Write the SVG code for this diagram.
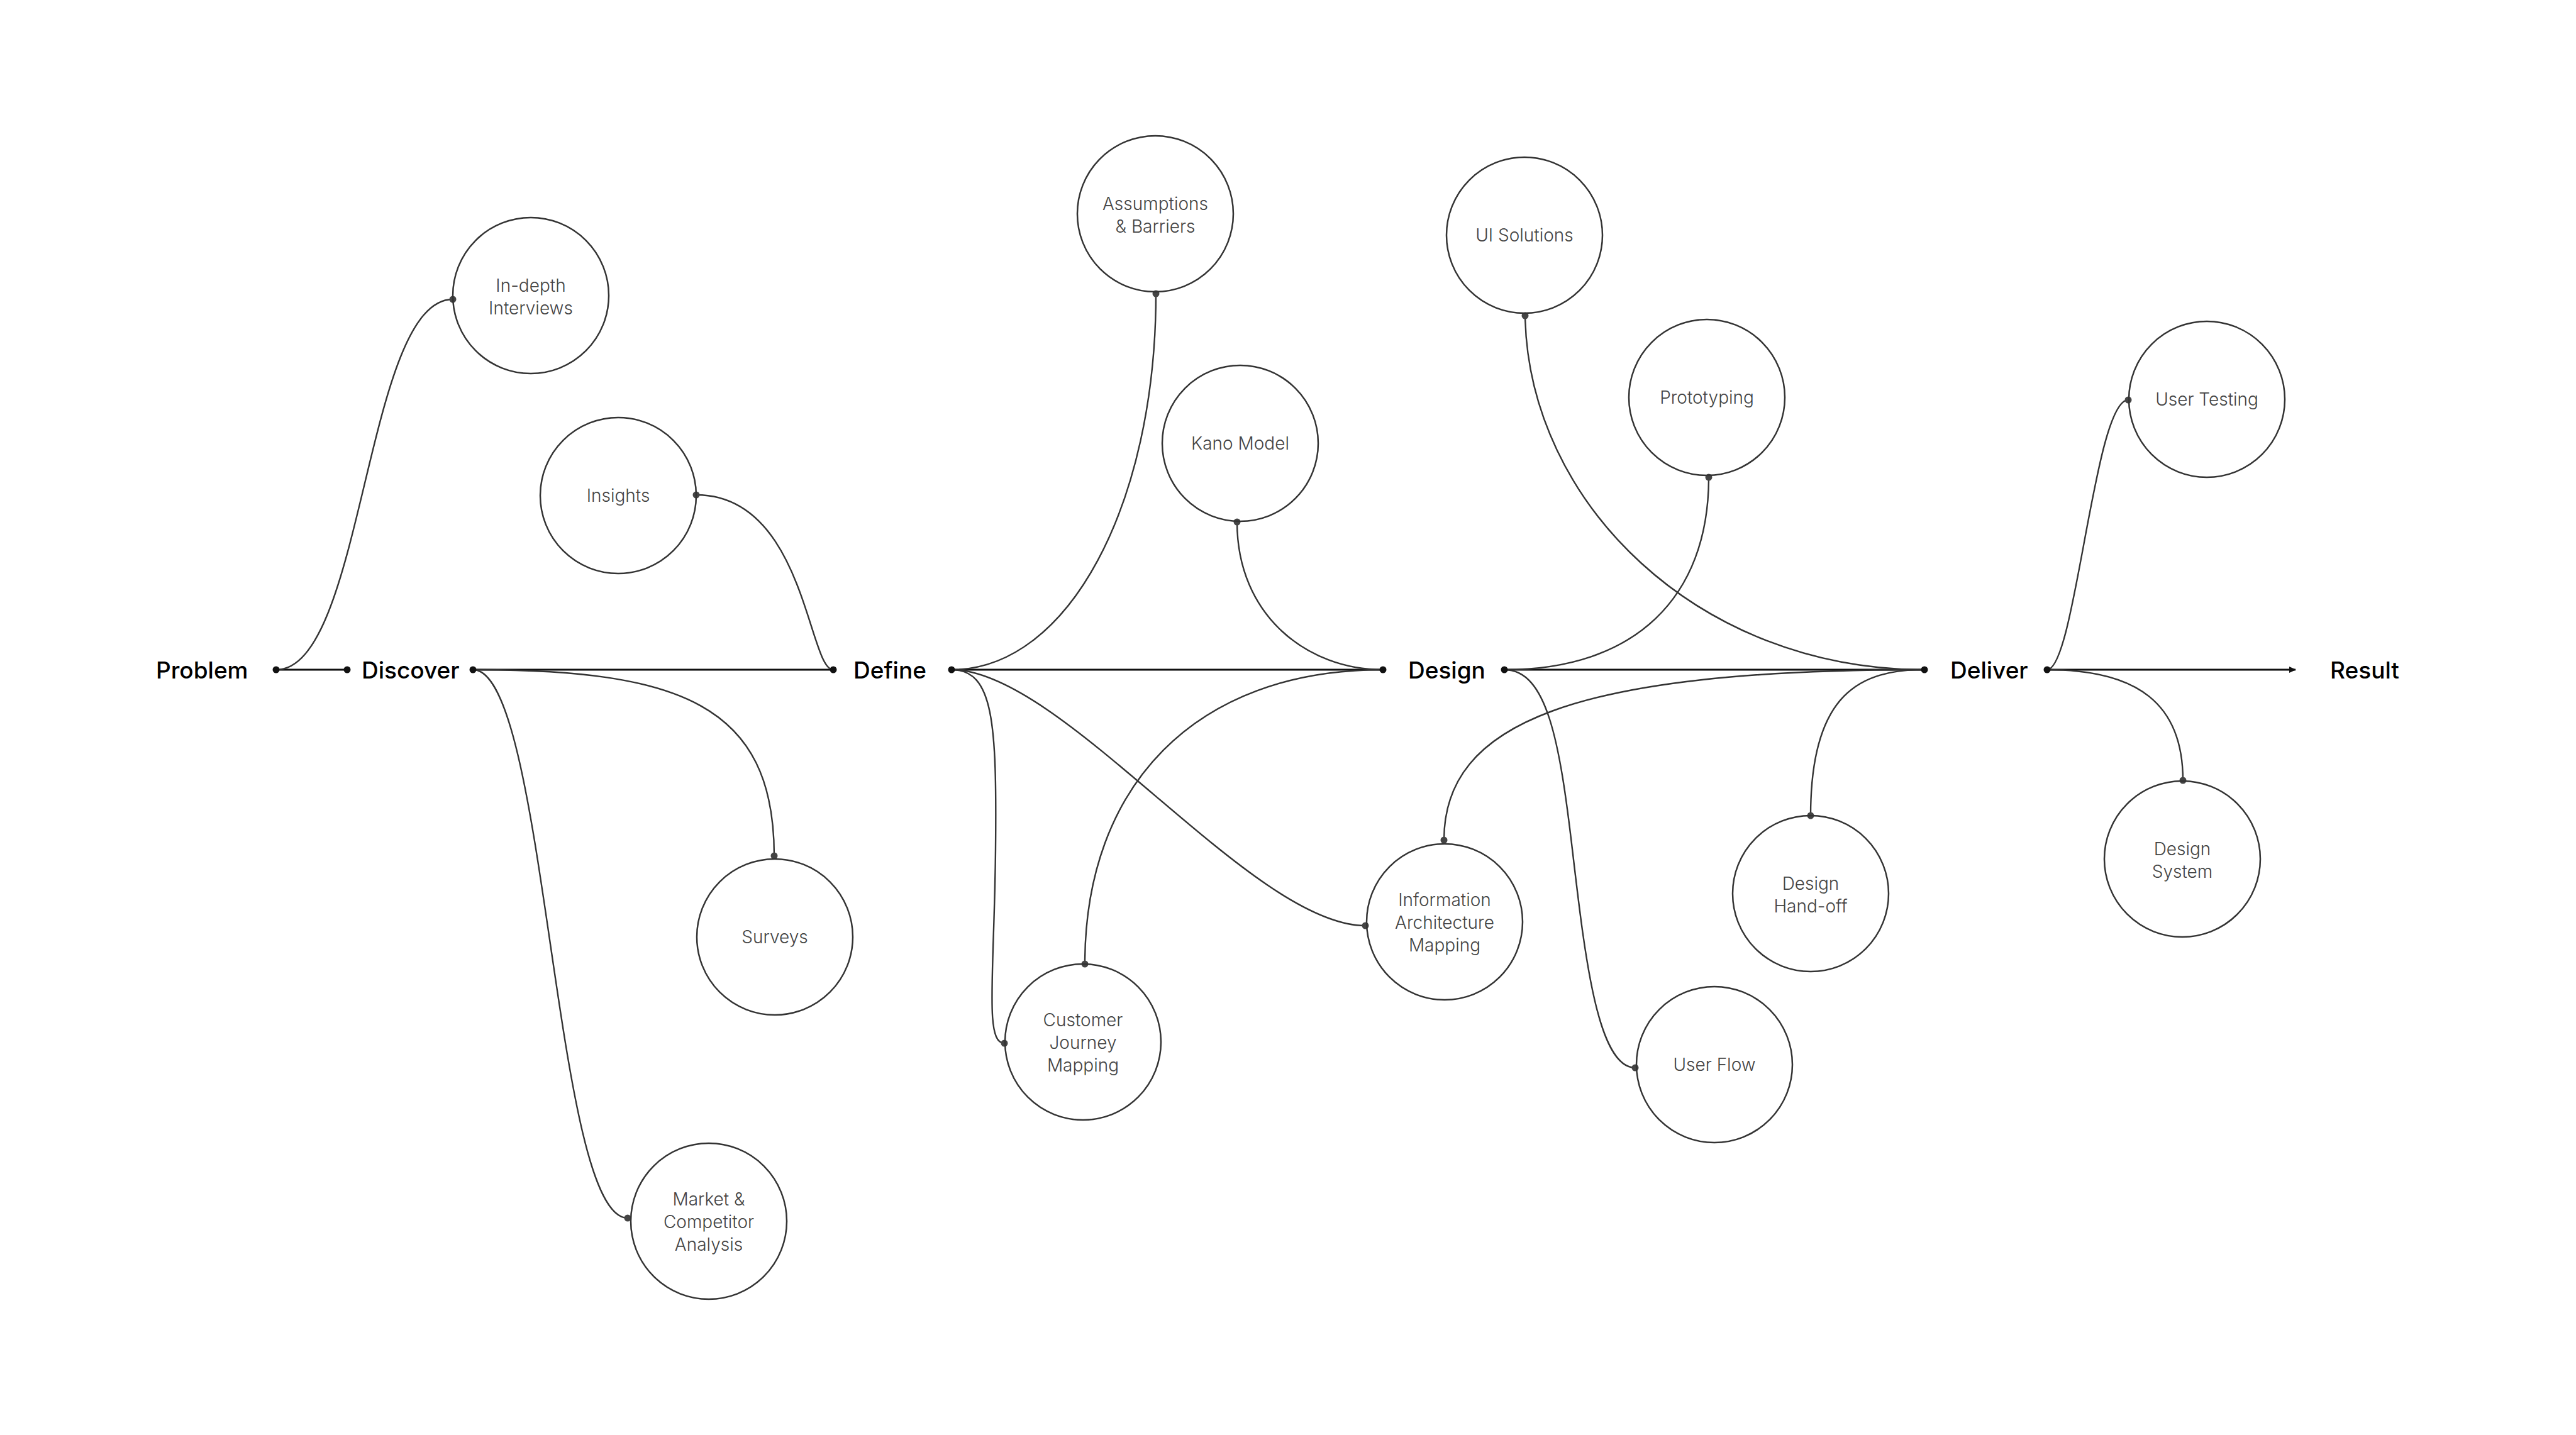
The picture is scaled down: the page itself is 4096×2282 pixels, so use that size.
<svg xmlns="http://www.w3.org/2000/svg" width="4096" height="2282" viewBox="0 0 4096 2282">
<style>
.bg{fill:#fff}
.node circle{fill:none;stroke:#333;stroke-width:2.5}
.node text{font-family:Inter,"Noto Sans","Liberation Sans",sans-serif;font-size:28px;font-weight:300;fill:#444;text-anchor:middle}
.stage text{font-family:Inter,"Noto Sans","Liberation Sans",sans-serif;font-size:37px;font-weight:500;fill:#000}
.conn path{fill:none;stroke:#333;stroke-width:2.4}
.main{stroke:#111 !important;stroke-width:2.8 !important}
.dot{fill:#111}
.ndot{fill:#444}
</style>
<defs>
<marker id="arrow" markerWidth="12" markerHeight="12" refX="10" refY="6" orient="auto" markerUnits="userSpaceOnUse">
<path d="M0,1 L11,6 L0,11 Z" fill="#111"/>
</marker>
</defs>
<rect class="bg" x="0" y="0" width="4096" height="2282"/>

<g id="connectors" class="conn">
<!-- main line -->
<path class="main" d="M439 1065 H552"/>
<path class="main" d="M752 1065 H1325"/>
<path class="main" d="M1513 1065 H2199"/>
<path class="main" d="M2392 1065 H3060"/>
<path class="main" d="M3255 1065 H3650" marker-end="url(#arrow)"/>
<!-- branches -->
<path d="M439 1065 C579 1065 580 476 720 476"/>
<path d="M1107 787 C1280 787 1285 1065 1325 1065"/>
<path d="M752 1065 C1080 1065 1231 1120 1231 1361"/>
<path d="M752 1065 C870 1065 880 1937 998 1937"/>
<path d="M1513 1065 C1700 1065 1838 800 1838 467"/>
<path d="M1967 830 C1967 980 2080 1065 2199 1065"/>
<path d="M1513 1065 C1580 1065 1585 1150 1583 1350 C1581 1550 1565 1659 1597 1659"/>
<path d="M1513 1065 C1690 1065 1990 1472 2171 1472"/>
<path d="M1725 1533 C1725 1250 1900 1065 2199 1065"/>
<path d="M2392 1065 C2600 1065 2717 950 2717 759"/>
<path d="M2425 502 C2430 800 2700 1065 3060 1065"/>
<path d="M2392 1065 C2460 1065 2480 1180 2500 1350 C2520 1520 2540 1698 2600 1698"/>
<path d="M2296 1336 C2296 1150 2500 1065 3060 1065"/>
<path d="M2879 1297 C2879 1100 2960 1065 3060 1065"/>
<path d="M3255 1065 C3300 1065 3330 636 3384 636"/>
<path d="M3255 1065 C3400 1065 3471 1120 3471 1241"/>
<!-- main dots -->
<circle class="dot" cx="439" cy="1065" r="5.5"/>
<circle class="dot" cx="552" cy="1065" r="5.5"/>
<circle class="dot" cx="752" cy="1065" r="5.5"/>
<circle class="dot" cx="1325" cy="1065" r="5.5"/>
<circle class="dot" cx="1513" cy="1065" r="5.5"/>
<circle class="dot" cx="2199" cy="1065" r="5.5"/>
<circle class="dot" cx="2392" cy="1065" r="5.5"/>
<circle class="dot" cx="3060" cy="1065" r="5.5"/>
<circle class="dot" cx="3255" cy="1065" r="5.5"/>
<!-- node dots -->
<circle class="ndot" cx="720" cy="476" r="5.5"/>
<circle class="ndot" cx="1107" cy="787" r="5.5"/>
<circle class="ndot" cx="1231" cy="1361" r="5.5"/>
<circle class="ndot" cx="998" cy="1937" r="5.5"/>
<circle class="ndot" cx="1838" cy="467" r="5.5"/>
<circle class="ndot" cx="1967" cy="830" r="5.5"/>
<circle class="ndot" cx="1597" cy="1659" r="5.5"/>
<circle class="ndot" cx="2171" cy="1472" r="5.5"/>
<circle class="ndot" cx="1725" cy="1533" r="5.5"/>
<circle class="ndot" cx="2717" cy="759" r="5.5"/>
<circle class="ndot" cx="2425" cy="502" r="5.5"/>
<circle class="ndot" cx="2600" cy="1698" r="5.5"/>
<circle class="ndot" cx="2296" cy="1336" r="5.5"/>
<circle class="ndot" cx="2879" cy="1297" r="5.5"/>
<circle class="ndot" cx="3384" cy="636" r="5.5"/>
<circle class="ndot" cx="3471" cy="1241" r="5.5"/>
</g>

<g id="stage-problem" class="stage"><text x="248" y="1079">Problem</text></g>
<g id="stage-discover" class="stage"><text x="575" y="1079">Discover</text></g>
<g id="stage-define" class="stage"><text x="1357" y="1079">Define</text></g>
<g id="stage-design" class="stage"><text x="2239" y="1079">Design</text></g>
<g id="stage-deliver" class="stage"><text x="3101" y="1079">Deliver</text></g>
<g id="stage-result" class="stage"><text x="3705" y="1079">Result</text></g>

<g id="node-indepth" class="node"><circle cx="844" cy="470" r="124"/><text x="844" y="464">In-depth</text><text x="844" y="500">Interviews</text></g>
<g id="node-insights" class="node"><circle cx="983" cy="788" r="124"/><text x="983" y="798">Insights</text></g>
<g id="node-surveys" class="node"><circle cx="1232" cy="1490" r="124"/><text x="1232" y="1500">Surveys</text></g>
<g id="node-market" class="node"><circle cx="1127" cy="1942" r="124"/><text x="1127" y="1917">Market &amp;</text><text x="1127" y="1953">Competitor</text><text x="1127" y="1989">Analysis</text></g>
<g id="node-assumptions" class="node"><circle cx="1837" cy="340" r="124"/><text x="1837" y="334">Assumptions</text><text x="1837" y="370">&amp; Barriers</text></g>
<g id="node-kano" class="node"><circle cx="1972" cy="705" r="124"/><text x="1972" y="715">Kano Model</text></g>
<g id="node-cjm" class="node"><circle cx="1722" cy="1657" r="124"/><text x="1722" y="1632">Customer</text><text x="1722" y="1668">Journey</text><text x="1722" y="1704">Mapping</text></g>
<g id="node-ia" class="node"><circle cx="2297" cy="1466" r="124"/><text x="2297" y="1441">Information</text><text x="2297" y="1477">Architecture</text><text x="2297" y="1513">Mapping</text></g>
<g id="node-ui" class="node"><circle cx="2424" cy="374" r="124"/><text x="2424" y="384">UI Solutions</text></g>
<g id="node-proto" class="node"><circle cx="2714" cy="632" r="124"/><text x="2714" y="642">Prototyping</text></g>
<g id="node-userflow" class="node"><circle cx="2726" cy="1693" r="124"/><text x="2726" y="1703">User Flow</text></g>
<g id="node-handoff" class="node"><circle cx="2879" cy="1421" r="124"/><text x="2879" y="1415">Design</text><text x="2879" y="1451">Hand-off</text></g>
<g id="node-usertesting" class="node"><circle cx="3509" cy="635" r="124"/><text x="3509" y="645">User Testing</text></g>
<g id="node-designsystem" class="node"><circle cx="3470" cy="1366" r="124"/><text x="3470" y="1360">Design</text><text x="3470" y="1396">System</text></g>
</svg>
